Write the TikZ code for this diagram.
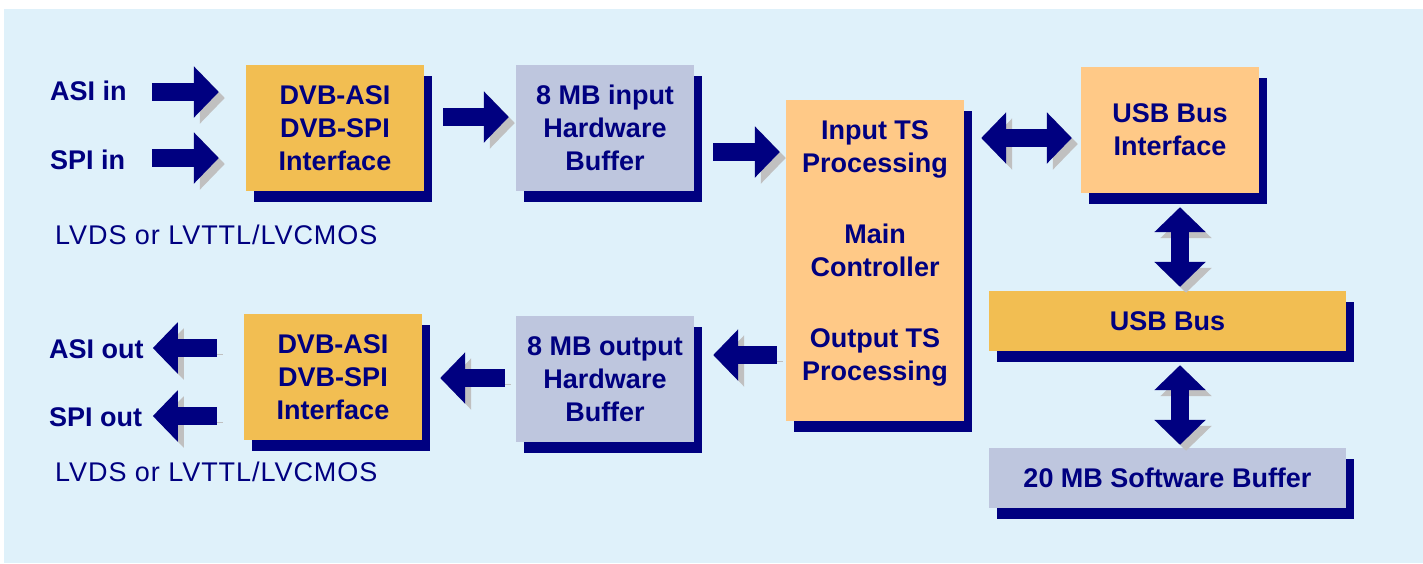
\documentclass[tikz,border=0pt]{standalone}
\usepackage{fontspec}
\setmainfont{Liberation Sans}
\newfontfamily\lvdsfont{Liberation Sans}[LetterSpace=3.5]
\usetikzlibrary{calc,arrows.meta,shadows}

\definecolor{navyblue}{RGB}{0,0,128}
\definecolor{bgblue}{RGB}{223,241,250}
\definecolor{goldbox}{RGB}{242,190,82}
\definecolor{peachbox}{RGB}{255,201,135}
\definecolor{lavbox}{RGB}{190,198,222}
\definecolor{arrowshade}{RGB}{192,192,192}

\begin{document}
\begin{tikzpicture}[x=1pt, y=-1pt, node distance=270pt,
    every node/.style={text=navyblue, font=\fontsize{27}{33}\selectfont\bfseries},
    box/.style={minimum width=178pt, minimum height=126pt, align=center, inner sep=0pt,
        drop shadow={shadow xshift=8pt, shadow yshift=-11pt, fill=navyblue, opacity=1}},
    dvbbox/.style={box, fill=goldbox},
    bufbox/.style={box, fill=lavbox},
    ctrlbox/.style={box, fill=peachbox, minimum height=321pt},
    ifbox/.style={box, fill=peachbox},
    busbox/.style={box, minimum width=357pt, minimum height=60pt},
    lbl/.style={anchor=west, inner sep=0pt},
    lvds/.style={lbl, font=\fontsize{27}{33}\lvdsfont},
    fatarrow/.style={line width=18pt, navyblue, -{Triangle[length=25pt,width=50pt]},
        preaction={draw=arrowshade, transform canvas={xshift=6pt,yshift=-6pt}}},
    fatdouble/.style={fatarrow, {Triangle[length=25pt,width=50pt]}-{Triangle[length=25pt,width=50pt]}}]

    % Background
    \useasboundingbox (0,0) rectangle (1423,563);
    \fill[white] (0,0) rectangle (1423,563);
    \fill[bgblue] (4,9) rectangle (1423,563);

    % Input side
    \node[lbl] (asiin) at (50,91) {ASI in};
    \node[lbl] (spiin) at (50,160) {SPI in};
    \node[dvbbox] (dvbin) at (335,128) {DVB-ASI\\DVB-SPI\\Interface};
    \node[lvds] (lvdsin) at (55,235) {LVDS or LVTTL/LVCMOS};
    \node[bufbox, right of=dvbin] (inbuf) {8 MB input\\Hardware\\Buffer};

    % Controller and USB
    \node[ctrlbox] (main) at (875,260.5) {Input TS\\Processing\\[38pt]Main\\Controller\\[38pt]Output TS\\Processing\\[-14pt]\mbox{}};
    \node[ifbox] (usbif) at (1170,130) {USB Bus\\Interface};
    \node[busbox, fill=goldbox] (usbbus) at (1167.5,321) {USB Bus};
    \node[busbox, fill=lavbox] (swbuf) at (1167.5,478) {20 MB Software Buffer};

    % Output side
    \node[bufbox, below of=inbuf, node distance=251pt] (outbuf) {8 MB output\\Hardware\\Buffer};
    \node[dvbbox] (dvbout) at (333,377) {DVB-ASI\\DVB-SPI\\Interface};
    \node[lbl] (asiout) at (49,349) {ASI out};
    \node[lbl] (spiout) at (49,417) {SPI out};
    \node[lvds] (lvdsout) at (55,472) {LVDS or LVTTL/LVCMOS};

    % Block arrows
    \draw[fatarrow] ($(asiin -| dvbin.west)+(-94,1)$) -- ($(asiin -| dvbin.west)+(-27,1)$);
    \draw[fatarrow] ($(spiin -| dvbin.west)+(-94,-2)$) -- ($(spiin -| dvbin.west)+(-27,-2)$);
    \draw[fatarrow] ($(dvbin.east)+(19,-11)$) -- ($(inbuf.west)+(-7,-11)$);
    \draw[fatarrow] ($(inbuf.east)+(19,24)$) -- ($(main.west)+(-6,-108.5)$);
    \draw[fatarrow] ($(main.west)+(-9,94.5)$) -- ($(outbuf.east)+(19,-24)$);
    \draw[fatarrow] ($(outbuf.west)+(-11,-1)$) -- ($(dvbout.east)+(18,1)$);
    \draw[fatarrow] ($(asiout -| dvbout.west)+(-27,-1)$) -- ($(asiout -| dvbout.west)+(-91,-1)$);
    \draw[fatarrow] ($(spiout -| dvbout.west)+(-27,-1)$) -- ($(spiout -| dvbout.west)+(-91,-1)$);
    \draw[fatdouble] ($(main.east)+(17,-122.5)$) -- ($(usbif.west)+(-9,8)$);
    \draw[fatdouble] ($(usbif.south)+(10,14)$) -- ($(usbbus.north)+(12.5,-4)$);
    \draw[fatdouble] ($(usbbus.south)+(12.5,14)$) -- ($(swbuf.north)+(12.5,-3)$);

\end{tikzpicture}
\end{document}
